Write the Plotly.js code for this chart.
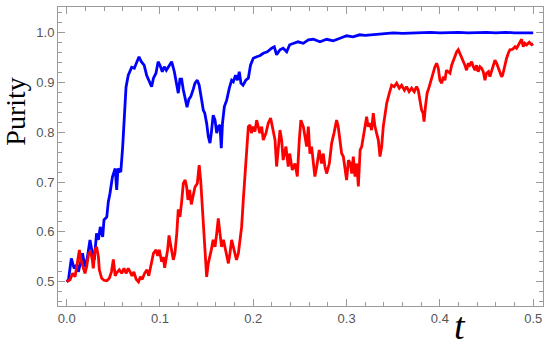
<!DOCTYPE html>
<html>
<head>
<meta charset="utf-8">
<script src="https://cdn.plot.ly/plotly-3.0.1.min.js"></script>
<style>
  html, body { margin: 0; padding: 0; background: #fff; }
  #chart { width: 550px; height: 347px; }
</style>
</head>
<body>
<div id="chart"></div>
<script>
// blue curve
const blueT = [0.000, 0.002, 0.005, 0.008, 0.011, 0.0125, 0.015, 0.017, 0.0196, 0.022,
    0.025, 0.0275, 0.0296, 0.032, 0.034, 0.036, 0.0386, 0.040, 0.043, 0.0446,
    0.0464, 0.049, 0.052, 0.0536, 0.055, 0.058, 0.060, 0.0617, 0.0636, 0.066,
    0.0697, 0.0725, 0.075, 0.0775, 0.080, 0.083, 0.0857, 0.0885, 0.091, 0.093,
    0.0957, 0.098, 0.100, 0.1025, 0.1046, 0.1068, 0.109, 0.1125, 0.1154, 0.118,
    0.1196, 0.1214, 0.1232, 0.125, 0.127, 0.129, 0.131, 0.133, 0.1357, 0.1375,
    0.140, 0.142, 0.1447, 0.1464, 0.148, 0.150, 0.1518, 0.1536, 0.155, 0.157,
    0.159, 0.1608, 0.1625, 0.1643, 0.1657, 0.167, 0.169, 0.1715, 0.1743, 0.1768,
    0.1786, 0.181, 0.183, 0.185, 0.1868, 0.189, 0.192, 0.1947, 0.197, 0.200,
    0.2036, 0.207, 0.2107, 0.215, 0.2197, 0.2225, 0.225, 0.2286, 0.232, 0.2358,
    0.239, 0.2436, 0.248, 0.2536, 0.259, 0.2643, 0.2715, 0.2787, 0.2857, 0.293,
    0.300, 0.307, 0.314, 0.320, 0.330, 0.340, 0.350, 0.360, 0.370, 0.380,
    0.390, 0.400, 0.410, 0.420, 0.430, 0.440, 0.450, 0.460, 0.470, 0.480,
    0.490, 0.500];
const blueP = [0.500, 0.505, 0.547, 0.527, 0.534, 0.520, 0.540, 0.557, 0.530, 0.547,
    0.584, 0.557, 0.544, 0.597, 0.584, 0.610, 0.590, 0.624, 0.630, 0.660,
    0.677, 0.710, 0.727, 0.684, 0.727, 0.720, 0.770, 0.824, 0.890, 0.914,
    0.930, 0.928, 0.941, 0.951, 0.941, 0.934, 0.914, 0.901, 0.891, 0.908,
    0.918, 0.941, 0.934, 0.921, 0.931, 0.924, 0.931, 0.941, 0.921, 0.894,
    0.878, 0.906, 0.906, 0.885, 0.864, 0.850, 0.866, 0.871, 0.886, 0.898,
    0.904, 0.894, 0.864, 0.844, 0.838, 0.818, 0.791, 0.778, 0.798, 0.834,
    0.824, 0.798, 0.811, 0.814, 0.768, 0.818, 0.851, 0.864, 0.888, 0.904,
    0.901, 0.914, 0.904, 0.921, 0.898, 0.894, 0.904, 0.908, 0.934, 0.948,
    0.951, 0.953, 0.958, 0.961, 0.968, 0.971, 0.955, 0.965, 0.968, 0.961,
    0.975, 0.978, 0.981, 0.978, 0.985, 0.986, 0.981, 0.986, 0.983, 0.988,
    0.993, 0.991, 0.995, 0.994, 0.996, 0.998, 0.999, 0.998, 0.999, 0.999,
    1.000, 0.999, 1.000, 1.000, 0.999, 1.000, 1.000, 0.999, 1.000, 0.999,
    0.999, 0.999];

// red curve
const redT = [0.000, 0.0036, 0.0064, 0.009, 0.0114, 0.0136, 0.0153, 0.0178, 0.0196, 0.0214,
    0.0236, 0.0257, 0.0275, 0.0285, 0.0303, 0.032, 0.034, 0.035, 0.0375, 0.040,
    0.043, 0.0457, 0.048, 0.050, 0.052, 0.0536, 0.0564, 0.059, 0.0614, 0.0636,
    0.066, 0.068, 0.070, 0.072, 0.0745, 0.077, 0.079, 0.081, 0.0835, 0.086,
    0.088, 0.090, 0.093, 0.0958, 0.0975, 0.0993, 0.1018, 0.1036, 0.105, 0.1082,
    0.1097, 0.1118, 0.1143, 0.116, 0.118, 0.1196, 0.1214, 0.1232, 0.125, 0.127,
    0.1286, 0.130, 0.1318, 0.1336, 0.1357, 0.1375, 0.140, 0.142, 0.1436, 0.1457,
    0.147, 0.1486, 0.150, 0.1518, 0.1536, 0.155, 0.157, 0.159, 0.1608, 0.1625,
    0.1643, 0.166, 0.168, 0.1697, 0.1715, 0.1733, 0.175, 0.1768, 0.1786, 0.180,
    0.182, 0.184, 0.1875, 0.1893, 0.191, 0.193, 0.1947, 0.1965, 0.198, 0.200,
    0.2018, 0.2036, 0.2054, 0.207, 0.209, 0.2107, 0.2136, 0.216, 0.2186, 0.2207,
    0.2233, 0.225, 0.2268, 0.2286, 0.2304, 0.232, 0.235, 0.2375, 0.239, 0.2418,
    0.2447, 0.2472, 0.2493, 0.251, 0.2536, 0.2554, 0.2572, 0.259, 0.2607, 0.2625,
    0.2643, 0.266, 0.268, 0.2707, 0.2732, 0.275, 0.2768, 0.2786, 0.2815, 0.284,
    0.2865, 0.2893, 0.291, 0.293, 0.2947, 0.2965, 0.2983, 0.300, 0.302, 0.304,
    0.3055, 0.3072, 0.309, 0.311, 0.3126, 0.3145, 0.3162, 0.3187, 0.3215, 0.323,
    0.325, 0.3268, 0.3286, 0.3304, 0.332, 0.334, 0.3358, 0.3376, 0.3393, 0.341,
    0.343, 0.3458, 0.3483, 0.351, 0.3536, 0.3565, 0.359, 0.362, 0.3643, 0.367,
    0.3697, 0.3725, 0.375, 0.3768, 0.3786, 0.3804, 0.382, 0.383, 0.3845, 0.3863,
    0.3886, 0.3904, 0.393, 0.3947, 0.3965, 0.3983, 0.400, 0.402, 0.4036, 0.4054,
    0.407, 0.409, 0.4108, 0.4126, 0.4143, 0.416, 0.418, 0.4197, 0.4215, 0.4233,
    0.425, 0.4268, 0.4286, 0.4304, 0.432, 0.434, 0.4358, 0.4376, 0.4393, 0.441,
    0.443, 0.4447, 0.4465, 0.4483, 0.450, 0.452, 0.4536, 0.4555, 0.4572, 0.459,
    0.4608, 0.4626, 0.4643, 0.4661, 0.4672, 0.4697, 0.4715, 0.4733, 0.475, 0.478,
    0.4805, 0.4822, 0.484, 0.4858, 0.4876, 0.4893, 0.491, 0.493, 0.4958, 0.4983,
    0.500];
const redP = [0.500, 0.504, 0.517, 0.510, 0.537, 0.564, 0.544, 0.527, 0.517, 0.530,
    0.557, 0.560, 0.544, 0.527, 0.564, 0.570, 0.550, 0.524, 0.507, 0.503,
    0.502, 0.507, 0.520, 0.545, 0.512, 0.518, 0.524, 0.517, 0.527, 0.517,
    0.527, 0.520, 0.512, 0.520, 0.505, 0.500, 0.510, 0.505, 0.517, 0.524,
    0.512, 0.530, 0.557, 0.564, 0.552, 0.564, 0.540, 0.550, 0.528, 0.564,
    0.593, 0.570, 0.544, 0.557, 0.597, 0.645, 0.630, 0.660, 0.697, 0.704,
    0.690, 0.664, 0.684, 0.655, 0.677, 0.690, 0.697, 0.734, 0.704, 0.644,
    0.590, 0.557, 0.510, 0.537, 0.557, 0.564, 0.584, 0.570, 0.597, 0.627,
    0.597, 0.570, 0.584, 0.570, 0.557, 0.537, 0.557, 0.584, 0.570, 0.557,
    0.544, 0.557, 0.610, 0.664, 0.717, 0.764, 0.811, 0.814, 0.798, 0.811,
    0.801, 0.824, 0.808, 0.798, 0.811, 0.784, 0.798, 0.818, 0.828, 0.811,
    0.784, 0.731, 0.764, 0.804, 0.784, 0.744, 0.771, 0.731, 0.757, 0.724,
    0.737, 0.711, 0.784, 0.824, 0.811, 0.791, 0.771, 0.811, 0.757, 0.771,
    0.731, 0.711, 0.731, 0.764, 0.737, 0.757, 0.731, 0.717, 0.737, 0.778,
    0.798, 0.824, 0.811, 0.784, 0.757, 0.751, 0.724, 0.704, 0.744, 0.737,
    0.717, 0.751, 0.711, 0.737, 0.691, 0.764, 0.771, 0.798, 0.831, 0.811,
    0.818, 0.804, 0.838, 0.811, 0.798, 0.784, 0.751, 0.771, 0.811, 0.838,
    0.858, 0.878, 0.894, 0.891, 0.898, 0.888, 0.894, 0.884, 0.891, 0.881,
    0.888, 0.881, 0.891, 0.884, 0.864, 0.844, 0.838, 0.821, 0.851, 0.878,
    0.891, 0.904, 0.921, 0.931, 0.938, 0.928, 0.904, 0.898, 0.911, 0.904,
    0.924, 0.921, 0.918, 0.934, 0.944, 0.951, 0.961, 0.965, 0.958, 0.948,
    0.944, 0.934, 0.924, 0.938, 0.934, 0.941, 0.931, 0.924, 0.934, 0.921,
    0.931, 0.928, 0.921, 0.904, 0.918, 0.921, 0.911, 0.924, 0.931, 0.944,
    0.938, 0.928, 0.921, 0.911, 0.914, 0.938, 0.948, 0.958, 0.965, 0.966,
    0.971, 0.968, 0.975, 0.981, 0.986, 0.971, 0.978, 0.975, 0.980, 0.975,
    0.977];

const xTicks = [0.0, 0.1, 0.2, 0.3, 0.4, 0.5];
const yTicks = [0.5, 0.6, 0.7, 0.8, 0.9, 1.0];

const frameColor = '#9a9a9a';
const labelFont = { family: 'Liberation Sans, Arial, sans-serif', size: 13, color: '#555' };

const traces = [
    {
        x: blueT, y: blueP,
        type: 'scatter', mode: 'lines',
        line: { color: '#0000ff', width: 2.8 },
        showlegend: false
    },
    {
        x: redT, y: redP,
        type: 'scatter', mode: 'lines',
        line: { color: '#ff0000', width: 2.8 },
        showlegend: false
    }
];

// minor ticks every 0.02 across the visible range
function minorVals(range) {
    const out = [];
    for (let k = Math.ceil(range[0] / 0.02); k * 0.02 <= range[1]; k++) {
        if (k % 5 !== 0) out.push(+(k * 0.02).toFixed(2));
    }
    return out;
}

function frameAxis(range, ticks) {
    return {
        range: range,
        tickmode: 'array',
        tickvals: ticks,
        ticktext: ticks.map(v => v.toFixed(1)),
        ticks: 'inside',
        ticklen: 7,
        tickwidth: 1,
        tickcolor: frameColor,
        minor: {
            tickmode: 'array',
            tickvals: minorVals(range),
            ticks: 'inside',
            ticklen: 4,
            tickwidth: 1,
            tickcolor: frameColor,
            showgrid: false
        },
        showline: true,
        linecolor: frameColor,
        linewidth: 1,
        mirror: 'allticks',
        showgrid: false,
        zeroline: false,
        tickfont: labelFont
    };
}

const layout = {
    width: 550,
    height: 347,
    margin: { l: 58, r: 7, t: 7, b: 41 },
    paper_bgcolor: '#fff',
    plot_bgcolor: '#fff',
    xaxis: frameAxis([-0.0093, 0.5105], xTicks),
    yaxis: frameAxis([0.4515, 1.0507], yTicks),
    annotations: [
        {
            text: 'Purity',
            xref: 'paper', yref: 'paper',
            x: -0.0866, y: 0.65,
            xanchor: 'center', yanchor: 'middle',
            textangle: -90,
            showarrow: false,
            font: { family: 'Liberation Serif, Times New Roman, serif', size: 28, color: '#000' }
        },
        {
            text: '<i>t</i>',
            xref: 'paper', yref: 'paper',
            x: 0.829, y: -0.066,
            xanchor: 'center', yanchor: 'middle',
            showarrow: false,
            font: { family: 'Liberation Serif, Times New Roman, serif', size: 38, color: '#000' }
        }
    ]
};

Plotly.newPlot('chart', traces, layout, { staticPlot: true, displayModeBar: false });
</script>
</body>
</html>
